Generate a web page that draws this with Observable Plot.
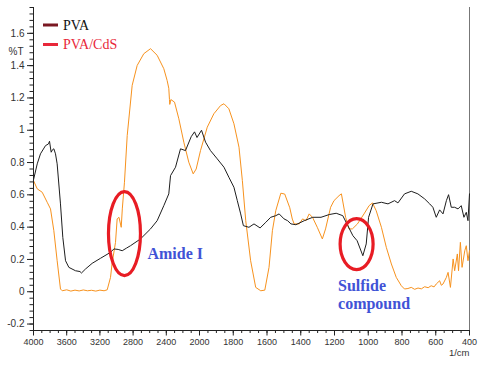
<!DOCTYPE html>
<html><head><meta charset="utf-8">
<script src="https://cdn.jsdelivr.net/npm/d3@7"></script>
<script src="https://cdn.jsdelivr.net/npm/@observablehq/plot@0.6"></script>
<style>body{margin:0;background:#fff} #chart{width:480px;height:365px}</style>
</head><body><div id="chart"></div>
<script>
// PVA series (wavenumber, %T)
const pvaWn = [4000,3955,3916,3855,3820,3807,3795,3787,3770,3755,3735,3715,3675,3647,3614,3574,3494,3440,3422,3373,3293,3193,3072,3032,2980,2931,2880,2831,2711,2590,2510,2430,2370,2349,2289,2229,2169,2100,2060,2030,1988,1964,1935,1895,1855,1826,1796,1776,1756,1740,1707,1677,1641,1607,1578,1548,1528,1499,1478,1458,1429,1379,1329,1280,1231,1190,1151,1121,1091,1066,1032,1012,998,972,922,883,844,824,785,745,706,666,636,617,597,577,557,537,524,508,488,468,449,433,419,409,400];
const pvaT  = [0.693,0.792,0.854,0.905,0.915,0.932,0.890,0.864,0.880,0.885,0.854,0.792,0.544,0.337,0.192,0.151,0.130,0.125,0.116,0.141,0.176,0.207,0.244,0.265,0.262,0.254,0.270,0.285,0.327,0.389,0.440,0.533,0.606,0.719,0.771,0.885,0.874,0.960,0.990,0.955,1.000,0.926,0.874,0.823,0.771,0.709,0.647,0.564,0.482,0.409,0.399,0.420,0.395,0.430,0.461,0.471,0.482,0.451,0.440,0.420,0.415,0.440,0.461,0.461,0.478,0.486,0.471,0.409,0.347,0.316,0.223,0.296,0.461,0.544,0.554,0.544,0.564,0.550,0.606,0.622,0.606,0.575,0.544,0.523,0.461,0.507,0.482,0.564,0.601,0.523,0.523,0.513,0.533,0.461,0.492,0.440,0.606];
// PVA/CdS series (wavenumber, %T)
const cdsWn = [4000,3955,3895,3835,3795,3755,3715,3675,3654,3600,3550,3500,3450,3400,3350,3300,3250,3200,3150,3112,3072,3052,3012,2992,2970,2943,2930,2904,2871,2811,2751,2671,2590,2510,2430,2390,2370,2362,2358,2345,2301,2249,2189,2129,2076,2040,1994,1954,1915,1875,1855,1826,1796,1766,1746,1726,1697,1667,1637,1613,1588,1568,1548,1518,1495,1465,1450,1439,1409,1389,1369,1350,1330,1302,1272,1253,1223,1203,1173,1159,1134,1114,1094,1064,1025,995,975,953,922,893,863,834,804,785,765,745,725,705,685,666,645,627,610,597,577,567,557,537,527,513,497,488,472,465,454,444,428,419,409,400];
const cdsT  = [0.688,0.637,0.616,0.554,0.513,0.378,0.192,0.017,0.006,0.012,0.004,0.010,0.005,0.011,0.006,0.009,0.004,0.010,0.006,0.012,0.089,0.180,0.306,0.451,0.461,0.399,0.513,0.678,0.967,1.278,1.401,1.474,1.505,1.464,1.381,1.308,1.260,1.190,1.160,1.190,1.174,1.071,0.926,0.802,0.730,0.760,0.874,1.019,1.102,1.153,1.164,1.133,1.040,0.895,0.688,0.440,0.192,0.027,0.006,0.010,0.151,0.378,0.502,0.610,0.605,0.520,0.450,0.420,0.420,0.451,0.440,0.482,0.460,0.399,0.327,0.389,0.523,0.564,0.595,0.606,0.461,0.389,0.389,0.420,0.482,0.533,0.550,0.502,0.399,0.275,0.172,0.089,0.037,0.017,0.020,0.027,0.015,0.023,0.018,0.031,0.025,0.037,0.030,0.048,0.068,0.040,0.048,0.089,0.120,0.027,0.203,0.130,0.234,0.130,0.306,0.151,0.254,0.285,0.192,0.254];

const seriesNames = ["PVA", "PVA/CdS"];
const yTicks = [-0.2,0,0.2,0.4,0.6,0.8,1,1.2,1.4,1.6];
const xTicks = [4000,3600,3200,2800,2400,2000,1800,1600,1400,1200,1000,800,600,400];
const yLabel = "%T";
const xLabel = "1/cm";
// annotations: label anchor (wavenumber, %T); ellipse centres (wavenumber, %T)
const noteLabels = ["Amide I", "Sulfide\ncompound"];
const noteWn = [2627, 1179];
const noteT = [0.242, -0.013];
const ringWn = [2904, 1069];
const ringT = [0.36, 0.295];

const pva = pvaWn.map((w, i) => ({w, t: pvaT[i]}));
const cds = cdsWn.map((w, i) => ({w, t: cdsT[i]}));
const notes = noteLabels.map((label, i) => ({label, w: noteWn[i], t: noteT[i]}));

const yMinor = d3.range(-0.24, 1.7601, 0.04).map(v => +v.toFixed(2));
const xMinor = d3.range(4000, 1999, -100).concat(d3.range(1950, 399, -50));

// FTIR axis: scale change at 2000 1/cm (4000-2000 compressed, 2000-400 expanded)
const xWarp = w => w >= 2000 ? (4000 - w) * 166 / 2000 : 166 + (2000 - w) * 270 / 1600;

const legendStroke = ["#7a1822", "#e8283a"];
const legendText = ["#111", "#e8283a"];

function ellipseSymbol(rx, ry) {
  const k = 0.5523;
  return {draw(c) {
    c.moveTo(rx, 0);
    c.bezierCurveTo(rx, k * ry, k * rx, ry, 0, ry);
    c.bezierCurveTo(-k * rx, ry, -rx, k * ry, -rx, 0);
    c.bezierCurveTo(-rx, -k * ry, -k * rx, -ry, 0, -ry);
    c.bezierCurveTo(k * rx, -ry, rx, -k * ry, rx, 0);
    c.closePath();
  }};
}

function legendMark(index, scales, values, dimensions) {
  const g = d3.create("svg:g");
  const left = 33, top = 7;
  seriesNames.forEach((name, i) => {
    const y = top + 18 + i * 19.5;
    g.append("line").attr("x1", left + 10).attr("x2", left + 25)
      .attr("y1", y).attr("y2", y).attr("stroke", legendStroke[i]).attr("stroke-width", 3);
    g.append("text").attr("x", left + 30).attr("y", y).attr("dy", "0.35em")
      .attr("text-anchor", "start")
      .attr("fill", legendText[i]).style("font-family", "'Liberation Serif','Times New Roman',serif")
      .style("font-size", "14px").text(name);
  });
  return g.node();
}

const chart = Plot.plot({
  width: 480, height: 365,
  marginLeft: 33, marginRight: 11, marginTop: 7, marginBottom: 35,
  style: {fontFamily: "'Liberation Sans', Arial, sans-serif", fontSize: "10px", color: "#333", background: "#fff"},
  x: {transform: xWarp, domain: [0, 436], label: null},
  y: {domain: [-0.24, 1.76], label: null},
  marks: [
    Plot.ruleX([400], {stroke: "#777", strokeWidth: 1}),
    Plot.line(cds, {x: "w", y: "t", stroke: "#f7921e", strokeWidth: 1}),
    Plot.line(pva, {x: "w", y: "t", stroke: "#1e1e1e", strokeWidth: 1}),
    Plot.dot([0], {x: () => ringWn[0], y: () => ringT[0], symbol: ellipseSymbol(16, 42), stroke: "#e81c24", strokeWidth: 3.2, fill: "none"}),
    Plot.dot([1], {x: () => ringWn[1], y: () => ringT[1], symbol: ellipseSymbol(16.5, 25.5), stroke: "#e81c24", strokeWidth: 3.2, fill: "none"}),
    Plot.text(notes, {x: "w", y: "t", text: "label", textAnchor: "start", lineHeight: 1.16,
      fill: "#4153d6", fontWeight: "bold", fontSize: 16, fontFamily: "'Liberation Serif','Times New Roman',serif"}),
    legendMark,
    Plot.axisY(yMinor, {tickSize: 3.5, tickFormat: () => "", stroke: "#222", label: null}),
    Plot.axisY(yTicks, {tickSize: 6, tickPadding: 3, tickFormat: d => String(d), stroke: "#222", fill: "#333", fontSize: 10, label: null}),
    Plot.axisX(xMinor, {tickSize: 3, tickFormat: () => "", stroke: "#222", label: null}),
    Plot.axisX(xTicks, {tickSize: 5.5, tickPadding: 2.5, tickFormat: d => String(d), stroke: "#222", fill: "#333", fontSize: 9, label: null}),
    Plot.ruleX([4000], {stroke: "#222"}),
    Plot.ruleY([-0.24], {stroke: "#222"}),
    Plot.text([yLabel], {frameAnchor: "top-left", dx: -25, dy: 40, textAnchor: "start", fill: "#333", fontSize: 10}),
    Plot.text([xLabel], {frameAnchor: "bottom-right", dx: 0, dy: 25, textAnchor: "end", fill: "#333", fontSize: 9.5})
  ]
});
document.getElementById("chart").append(chart);
</script>
</body></html>
